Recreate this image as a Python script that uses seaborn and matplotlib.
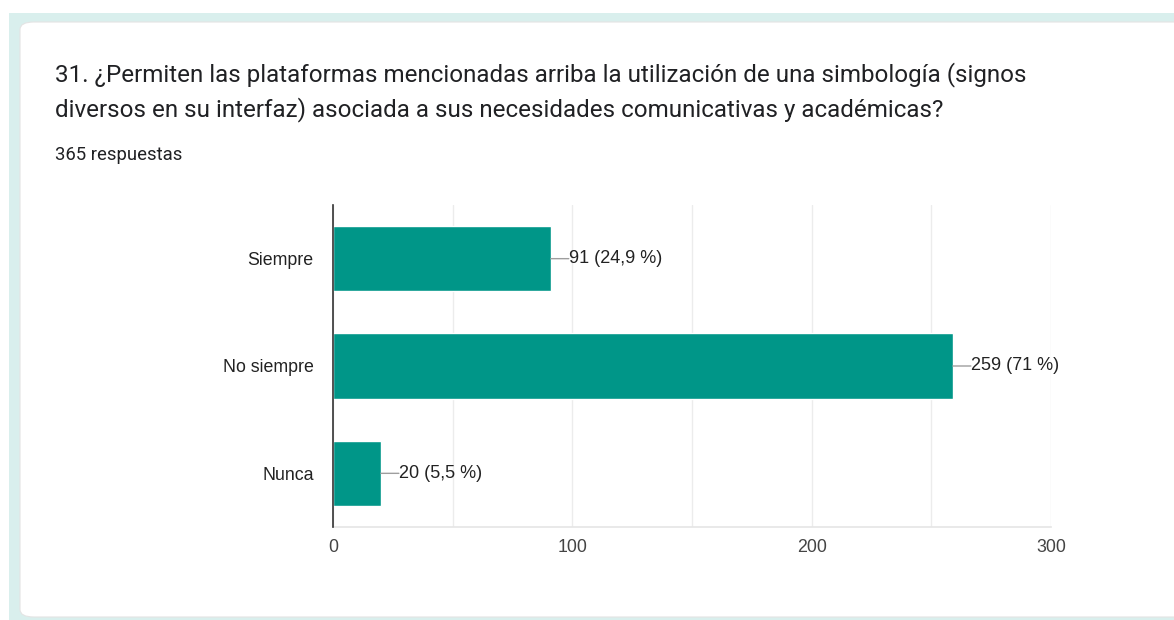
import matplotlib
matplotlib.use("Agg")
import matplotlib.pyplot as plt
import seaborn as sns
import pandas as pd
from matplotlib.patches import Rectangle, FancyBboxPatch
from matplotlib.ticker import MultipleLocator

categories = ["Siempre", "No siempre", "Nunca"]
values = [91, 259, 20]
value_labels = ["91 (24,9 %)", "259 (71 %)", "20 (5,5 %)"]
x_ticks = [0, 100, 200, 300]
title_lines = ["31. ¿Permiten las plataformas mencionadas arriba la utilización de una simbología (signos",
               "diversos en su interfaz) asociada a sus necesidades comunicativas y académicas?"]
subtitle = "365 respuestas"

W, H = 1174, 620
sns.set_theme(style="white")
plt.rcParams['font.family'] = ['Liberation Sans', 'DejaVu Sans']

fig = plt.figure(figsize=(W / 100, H / 100), dpi=100)
fig.patch.set_facecolor("white")

# background band and card
fig.patches.append(Rectangle((9 / W, 0), 1, 1 - 13 / H, transform=fig.transFigure,
                             facecolor="#d9efed", edgecolor="none", zorder=-3))
fig.patches.append(FancyBboxPatch((20 / W, 3 / H), 1.2, 1 - 25 / H,
                                  boxstyle="round,pad=0,rounding_size=0.012",
                                  transform=fig.transFigure, facecolor="white",
                                  edgecolor="#e4e4e4", linewidth=0.8, zorder=-2))

fig.text(55 / W, 1 - 75 / H, title_lines[0], family="Roboto", fontsize=17.4,
         color="#202124", va="center", ha="left")
fig.text(55 / W, 1 - 110 / H, title_lines[1], family="Roboto", fontsize=17.4,
         color="#202124", va="center", ha="left")
fig.text(55 / W, 1 - 155 / H, subtitle, family="Roboto", fontsize=13.3,
         color="#202124", va="center", ha="left")

ax = fig.add_axes([333 / W, 1 - 527 / H, (1051 - 333) / W, (527 - 205) / H])
ax.set_facecolor("none")
df = pd.DataFrame({"cat": categories, "val": values})
sns.barplot(data=df, x="val", y="cat", orient="h", color="#009688", width=0.61,
            saturation=1, ax=ax, zorder=3)

ax.set_xlim(0, 300)
ax.set_ylim(2.5, -0.5)
ax.xaxis.set_major_locator(MultipleLocator(100))
ax.xaxis.set_minor_locator(MultipleLocator(50))
ax.set_xticks(x_ticks)
ax.grid(True, axis="x", which="both", color="#ececec", linewidth=1, zorder=0)
ax.set_axisbelow(True)
ax.set_xlabel("")
ax.set_ylabel("")
for s in ["top", "right"]:
    ax.spines[s].set_visible(False)
ax.spines["bottom"].set_color("#e6e6e6")
ax.spines["left"].set_color("#333333")
ax.spines["left"].set_linewidth(1.2)
ax.spines["left"].set_zorder(5)
ax.tick_params(axis="both", length=0, labelsize=12.8, colors="#222222")
ax.tick_params(axis="y", pad=14)
ax.tick_params(axis="x", pad=9)
for lab in ax.get_xticklabels():
    lab.set_color("#444444")

for i, (v, lab) in enumerate(zip(values, value_labels)):
    ax.annotate("", xy=(v, i), xytext=(18, 0), textcoords="offset pixels",
                arrowprops=dict(arrowstyle="-", color="#9e9e9e", lw=1,
                                shrinkA=0, shrinkB=0), zorder=4)
    ax.annotate(lab, xy=(v, i), xytext=(18, 0), textcoords="offset pixels",
                ha="left", va="center", fontsize=13, color="#222222", zorder=4)

fig.savefig("out.png", dpi=100)
